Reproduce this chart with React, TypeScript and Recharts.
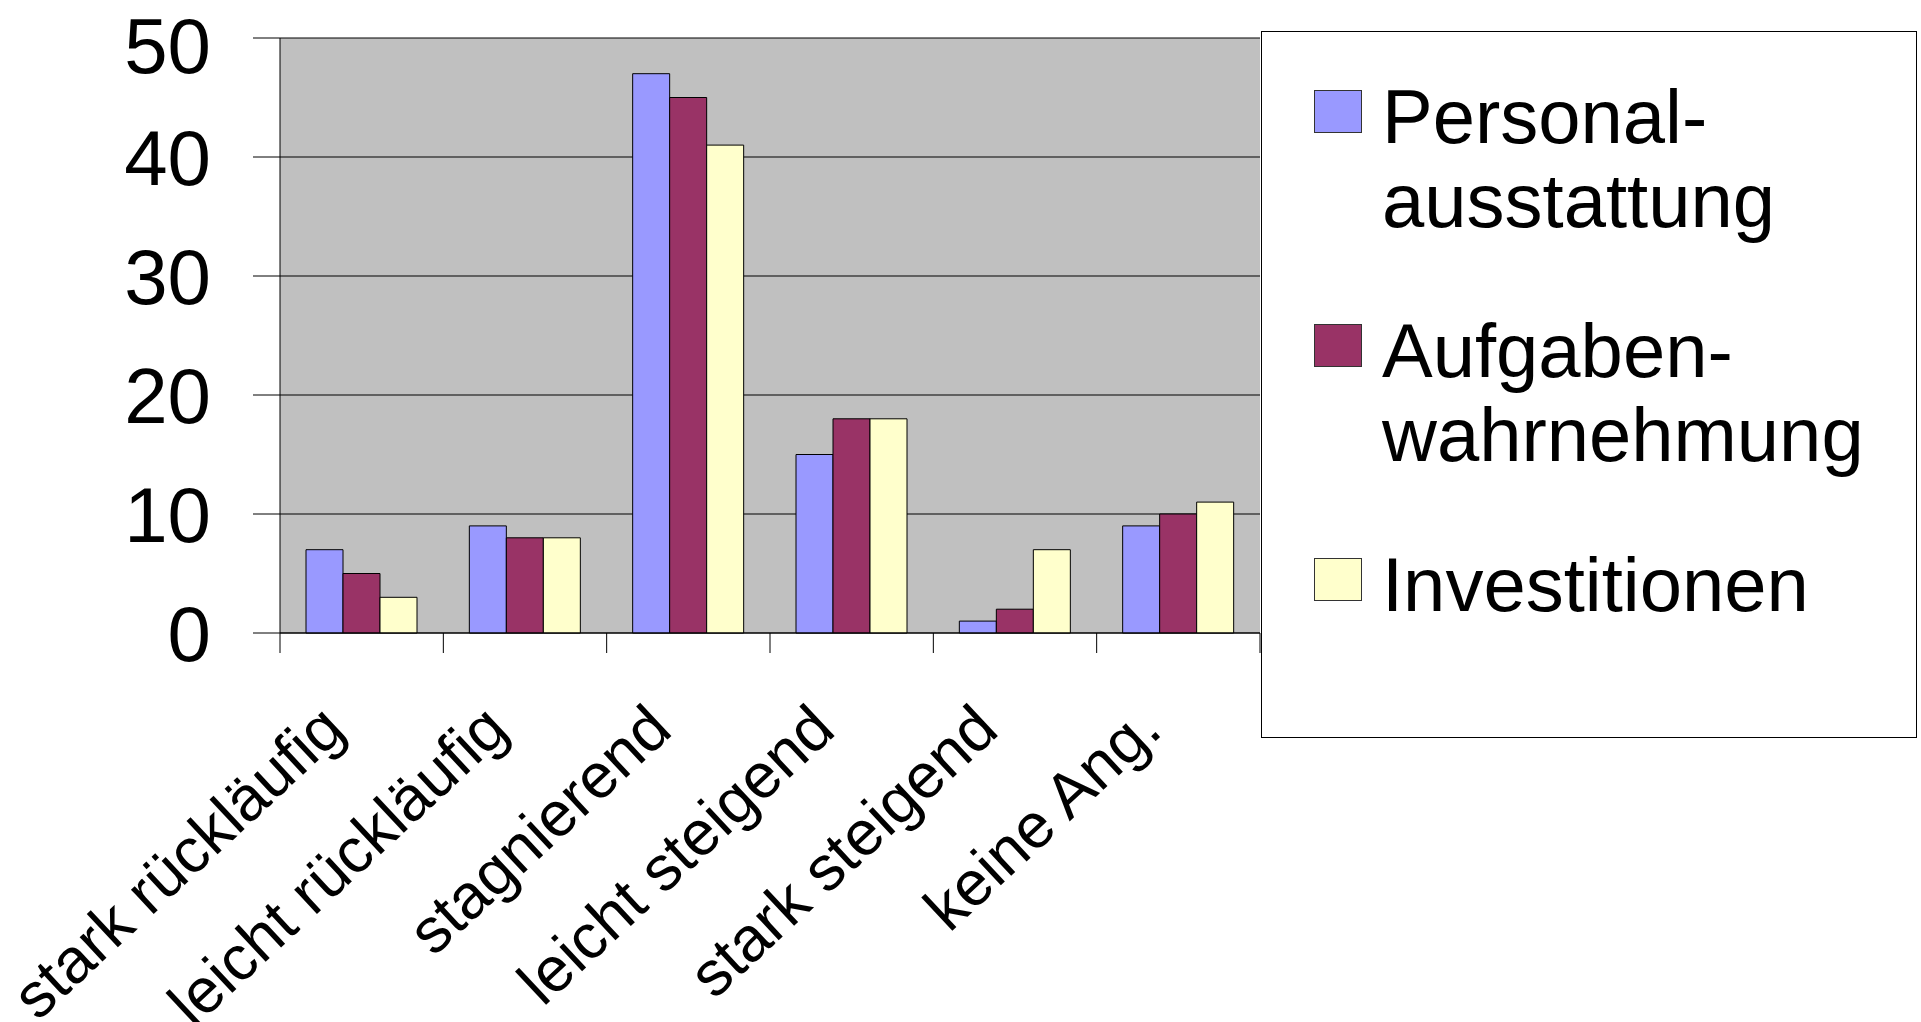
import React from "react";
import { BarChart, Bar, XAxis, YAxis, CartesianGrid, Legend } from "recharts";

const categories = [
  "stark rückläufig",
  "leicht rückläufig",
  "stagnierend",
  "leicht steigend",
  "stark steigend",
  "keine Ang.",
];
const seriesKeys = ["personal", "aufgaben", "investitionen"];
const seriesNames = ["Personal-ausstattung", "Aufgaben-wahrnehmung", "Investitionen"];
const seriesColors = ["#9999FF", "#993366", "#FFFFCC"];
const personal = [7, 9, 47, 15, 1, 9];
const aufgaben = [5, 8, 45, 18, 2, 10];
const investitionen = [3, 8, 41, 18, 7, 11];
const yTicks = [0, 10, 20, 30, 40, 50];

const data = categories.map((name, i) => ({
  name,
  personal: personal[i],
  aufgaben: aufgaben[i],
  investitionen: investitionen[i],
}));

const FONT = '"Liberation Sans", Arial, sans-serif';

// excel style: tick marks sit on the category borders, labels slanted
const XTick = (props: any) => {
  const { x, y, payload, index, visibleTicksCount } = props;
  const half = payload && payload.offset ? payload.offset : 81.7;
  return (
    <g>
      <line x1={x - half} x2={x - half} y1={y} y2={y + 20} stroke="#000" />
      {index === visibleTicksCount - 1 && (
        <line x1={x + half} x2={x + half} y1={y} y2={y + 20} stroke="#000" />
      )}
      <text
        transform={`translate(${x - 14},${y + 100}) rotate(-43)`}
        textAnchor="end"
        fontSize={63}
        fontFamily={FONT}
        fill="#000"
      >
        {payload.value}
      </text>
    </g>
  );
};

const LegendBox = () => (
  <div
    style={{
      position: "relative",
      width: 656,
      height: 707,
      boxSizing: "border-box",
      border: "1px solid #000",
      background: "#fff",
      fontFamily: FONT,
      fontSize: 76,
      lineHeight: "84px",
      color: "#000",
    }}
  >
    {seriesNames.map((n, i) => (
      <div key={n} style={{ position: "absolute", left: 0, top: 43 + i * 234 }}>
        <div
          style={{
            position: "absolute",
            left: 52,
            top: 15,
            width: 48,
            height: 43,
            boxSizing: "border-box",
            background: seriesColors[i],
            border: "1px solid #333",
          }}
        />
        <div style={{ position: "absolute", left: 120, top: 0, whiteSpace: "nowrap" }}>
          {n.split(/(?<=-)/).map((part) => (
            <div key={part}>{part}</div>
          ))}
        </div>
      </div>
    ))}
  </div>
);

export default function App() {
  return (
    <>
      <style>{"body{margin:0}"}</style>
      <BarChart
        width={1921}
        height={1022}
        data={data}
        margin={{ top: 38, right: 661, bottom: 0, left: 0 }}
        barGap={0}
        barCategoryGap={26}
      >
        <CartesianGrid vertical={false} fill="#C0C0C0" stroke="#000" />
        <XAxis
          dataKey="name"
          height={389}
          interval={0}
          tickLine={false}
          tickSize={0}
          tickMargin={0}
          axisLine={{ stroke: "#000" }}
          tick={<XTick />}
        />
        <YAxis
          width={280}
          domain={[0, 50]}
          ticks={yTicks}
          tickSize={27}
          tickMargin={42}
          axisLine={{ stroke: "#000" }}
          tickLine={{ stroke: "#000" }}
          tick={{ fontSize: 78, fill: "#000", fontFamily: FONT }}
        />
        <Legend
          layout="horizontal"
          verticalAlign="middle"
          align="center"
          wrapperStyle={{ left: 1261, top: 31, width: 656, height: 707 }}
          content={() => <LegendBox />}
        />
        {seriesKeys.map((k, i) => (
          <Bar
            key={k}
            dataKey={k}
            name={seriesNames[i]}
            fill={seriesColors[i]}
            stroke="#000"
            strokeWidth={1}
            isAnimationActive={false}
          />
        ))}
      </BarChart>
    </>
  );
}
